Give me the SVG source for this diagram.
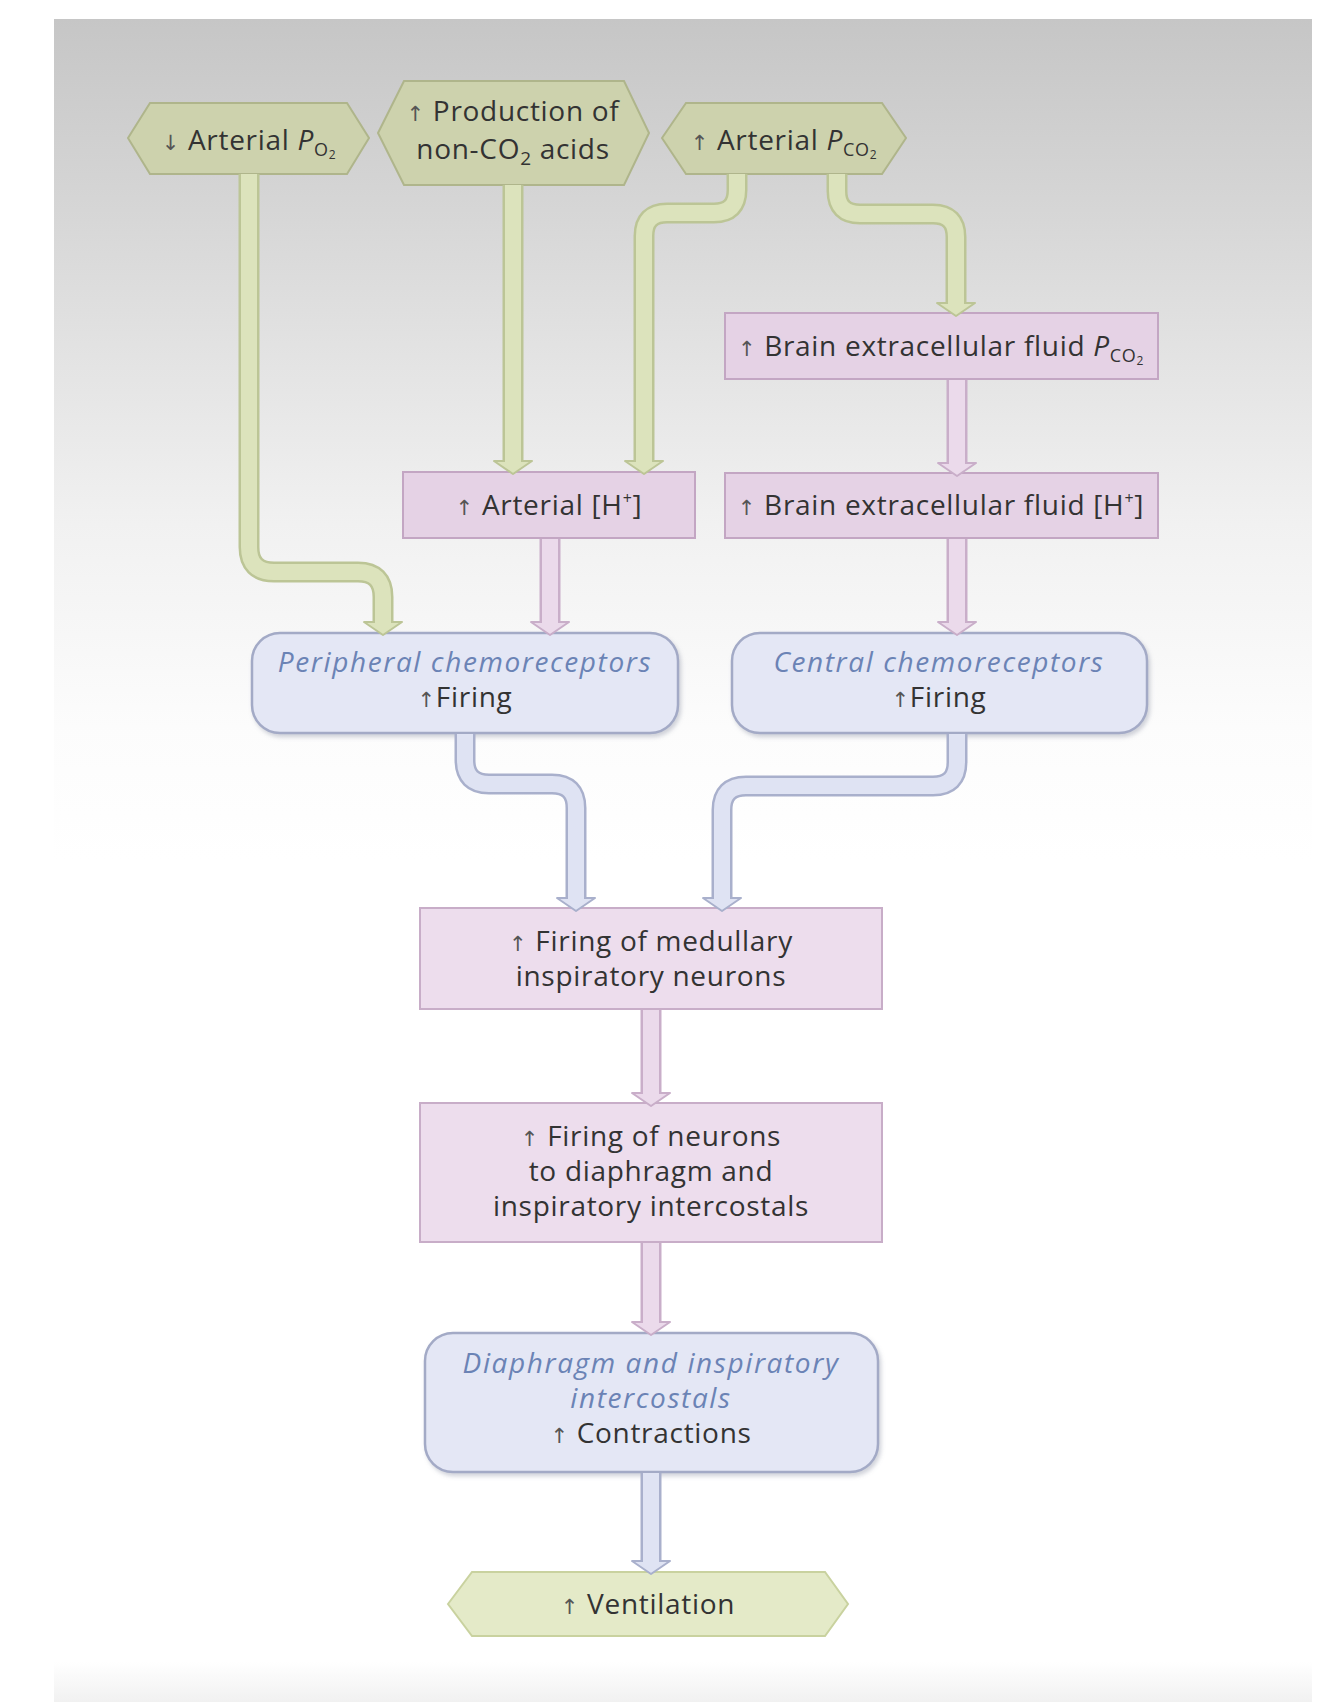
<svg xmlns="http://www.w3.org/2000/svg" width="1334" height="1702" viewBox="0 0 1334 1702">
<defs>
<linearGradient id="bg" x1="0" y1="0" x2="0" y2="1">
<stop offset="0" stop-color="#c6c6c6"/>
<stop offset="0.1" stop-color="#d4d4d4"/>
<stop offset="0.2" stop-color="#e3e3e3"/>
<stop offset="0.3" stop-color="#f1f1f1"/>
<stop offset="0.42" stop-color="#fcfcfc"/>
<stop offset="0.5" stop-color="#ffffff"/>
<stop offset="1" stop-color="#ffffff"/>
</linearGradient>
<linearGradient id="bot" x1="0" y1="0" x2="0" y2="1">
<stop offset="0" stop-color="#ffffff"/>
<stop offset="1" stop-color="#f1f1f1"/>
</linearGradient>
<filter id="sh" x="-10%" y="-10%" width="125%" height="130%">
<feDropShadow dx="2" dy="3" stdDeviation="2" flood-color="#7a7f95" flood-opacity="0.35"/>
</filter>
<style>
.t{font-family:"Open Sans","Liberation Sans",sans-serif;font-size:28px;font-weight:500;letter-spacing:0.7px;fill:#333333;text-anchor:middle}
.it{font-style:italic;fill:#6b83b5;letter-spacing:1.6px}
.ar{font-family:"DejaVu Sans",sans-serif;font-size:21px;font-weight:400;fill:#555}
.hexT{fill:#cdd2ad;stroke:#afb58b;stroke-width:2}
.hexB{fill:#e4eac8;stroke:#c9d29f;stroke-width:2}
.pkT{fill:#e5d2e5;stroke:#c3a6c3;stroke-width:2}
.pk{fill:#eddded;stroke:#c8adc8;stroke-width:2}
.bl{fill:#e4e7f5;stroke:#a3aac6;stroke-width:2.5;filter:url(#sh)}
.go{fill:none;stroke:#bcc596;stroke-width:21}
.gi{fill:none;stroke:#dce3bc;stroke-width:16}
.gh{fill:#dce3bc;stroke:#bcc596;stroke-width:2;stroke-linejoin:round}
.po{fill:none;stroke:#c9aec9;stroke-width:21}
.pi{fill:none;stroke:#ebdaeb;stroke-width:16}
.ph{fill:#ebdaeb;stroke:#c9aec9;stroke-width:2;stroke-linejoin:round}
.bo{fill:none;stroke:#a9b0cc;stroke-width:21}
.bi{fill:none;stroke:#dfe3f3;stroke-width:16}
.bh{fill:#dfe3f3;stroke:#a9b0cc;stroke-width:2;stroke-linejoin:round}
</style>
</defs>

<rect x="0" y="0" width="1334" height="1702" fill="#ffffff"/>
<rect x="54" y="19" width="1258" height="1683" fill="url(#bg)"/>
<rect x="54" y="1662" width="1258" height="40" fill="url(#bot)"/>

<g id="n-po2">
<polygon class="hexT" points="128,138 150,103 347,103 369,138 347,174 150,174"/>
<text class="t" x="249" y="150"><tspan class="ar">↓</tspan> Arterial <tspan font-style="italic">P</tspan><tspan font-size="18" dy="6">O</tspan><tspan font-size="12" dy="3">2</tspan></text>
</g>
<g id="n-acids">
<polygon class="hexT" points="378,133 404,81 624,81 649,133 624,185 404,185"/>
<text class="t" x="513" y="121"><tspan class="ar">↑</tspan> Production of</text>
<text class="t" x="513" y="159">non-CO<tspan font-size="19" dy="6">2</tspan><tspan dy="-6"> acids</tspan></text>
</g>
<g id="n-pco2">
<polygon class="hexT" points="662,138 686,103 882,103 906,138 882,174 686,174"/>
<text class="t" x="784" y="150"><tspan class="ar">↑</tspan> Arterial <tspan font-style="italic">P</tspan><tspan font-size="18" dy="6">CO</tspan><tspan font-size="12" dy="3">2</tspan></text>
</g>

<g id="n-brainpco2">
<rect class="pkT" x="725" y="313" width="433" height="66"/>
<text class="t" x="941" y="356"><tspan class="ar">↑</tspan> Brain extracellular fluid <tspan font-style="italic">P</tspan><tspan font-size="18" dy="6">CO</tspan><tspan font-size="12" dy="3">2</tspan></text>
</g>
<g id="n-arth">
<rect class="pkT" x="403" y="472" width="292" height="66"/>
<text class="t" x="549" y="515"><tspan class="ar">↑</tspan> Arterial [H<tspan font-size="16" dy="-11">+</tspan><tspan dy="11">]</tspan></text>
</g>
<g id="n-brainh">
<rect class="pkT" x="725" y="473" width="433" height="65"/>
<text class="t" x="941" y="515"><tspan class="ar">↑</tspan> Brain extracellular fluid [H<tspan font-size="16" dy="-11">+</tspan><tspan dy="11">]</tspan></text>
</g>

<g id="n-periph">
<rect class="bl" x="252" y="633" width="426" height="100" rx="28"/>
<text class="t it" x="465" y="672">Peripheral chemoreceptors</text>
<text class="t" x="465" y="707"><tspan class="ar">↑</tspan>Firing</text>
</g>
<g id="n-central">
<rect class="bl" x="732" y="633" width="415" height="100" rx="28"/>
<text class="t it" x="939" y="672">Central chemoreceptors</text>
<text class="t" x="939" y="707"><tspan class="ar">↑</tspan>Firing</text>
</g>

<g id="n-medullary">
<rect class="pk" x="420" y="908" width="462" height="101"/>
<text class="t" x="651" y="951"><tspan class="ar">↑</tspan> Firing of medullary</text>
<text class="t" x="651" y="986">inspiratory neurons</text>
</g>
<g id="n-neurons">
<rect class="pk" x="420" y="1103" width="462" height="139"/>
<text class="t" x="651" y="1146"><tspan class="ar">↑</tspan> Firing of neurons</text>
<text class="t" x="651" y="1181">to diaphragm and</text>
<text class="t" x="651" y="1216">inspiratory intercostals</text>
</g>
<g id="n-diaphragm">
<rect class="bl" x="425" y="1333" width="453" height="139" rx="28"/>
<text class="t it" x="651" y="1373">Diaphragm and inspiratory</text>
<text class="t it" x="651" y="1408">intercostals</text>
<text class="t" x="651" y="1443"><tspan class="ar">↑</tspan> Contractions</text>
</g>
<g id="n-ventilation">
<polygon class="hexB" points="448,1604 472,1572 825,1572 848,1604 825,1636 472,1636"/>
<text class="t" x="648" y="1614"><tspan class="ar">↑</tspan> Ventilation</text>
</g>

<g id="connectors">
<g id="c1">
<path class="go" d="M249,174 V547 Q249,572 274,572 H358 Q383,572 383,597 V622"/>
<polygon class="gh" points="364,622 402,622 383,635"/>
<path class="gi" d="M249,174 V547 Q249,572 274,572 H358 Q383,572 383,597 V626"/>
</g>
<g id="c2">
<path class="go" d="M513,185 V461"/>
<polygon class="gh" points="494,461 532,461 513,474"/>
<path class="gi" d="M513,185 V465"/>
</g>
<g id="c3">
<path class="go" d="M737,174 V190 Q737,213 714,213 H667 Q644,213 644,236 V461"/>
<polygon class="gh" points="625,461 663,461 644,474"/>
<path class="gi" d="M737,174 V190 Q737,213 714,213 H667 Q644,213 644,236 V465"/>
</g>
<g id="c4">
<path class="go" d="M837,174 V191 Q837,214 860,214 H933 Q956,214 956,237 V303"/>
<polygon class="gh" points="937,303 975,303 956,316"/>
<path class="gi" d="M837,174 V191 Q837,214 860,214 H933 Q956,214 956,237 V307"/>
</g>
<g id="c5">
<path class="po" d="M957,380 V463"/>
<polygon class="ph" points="938,463 976,463 957,476"/>
<path class="pi" d="M957,380 V467"/>
</g>
<g id="c6">
<path class="po" d="M550,539 V622"/>
<polygon class="ph" points="531,622 569,622 550,635"/>
<path class="pi" d="M550,539 V626"/>
</g>
<g id="c7">
<path class="po" d="M957,539 V622"/>
<polygon class="ph" points="938,622 976,622 957,635"/>
<path class="pi" d="M957,539 V626"/>
</g>
<g id="c8">
<path class="bo" d="M465,734 V760 Q465,784 489,784 H552 Q576,784 576,808 V898"/>
<polygon class="bh" points="557,898 595,898 576,911"/>
<path class="bi" d="M465,734 V760 Q465,784 489,784 H552 Q576,784 576,808 V902"/>
</g>
<g id="c9">
<path class="bo" d="M957,734 V762 Q957,786 933,786 H746 Q722,786 722,810 V898"/>
<polygon class="bh" points="703,898 741,898 722,911"/>
<path class="bi" d="M957,734 V762 Q957,786 933,786 H746 Q722,786 722,810 V902"/>
</g>
<g id="c10">
<path class="po" d="M651,1010 V1093"/>
<polygon class="ph" points="632,1093 670,1093 651,1106"/>
<path class="pi" d="M651,1010 V1097"/>
</g>
<g id="c11">
<path class="po" d="M651,1243 V1322"/>
<polygon class="ph" points="632,1322 670,1322 651,1335"/>
<path class="pi" d="M651,1243 V1326"/>
</g>
<g id="c12">
<path class="bo" d="M651,1473 V1561"/>
<polygon class="bh" points="632,1561 670,1561 651,1574"/>
<path class="bi" d="M651,1473 V1565"/>
</g>
</g>
</svg>
